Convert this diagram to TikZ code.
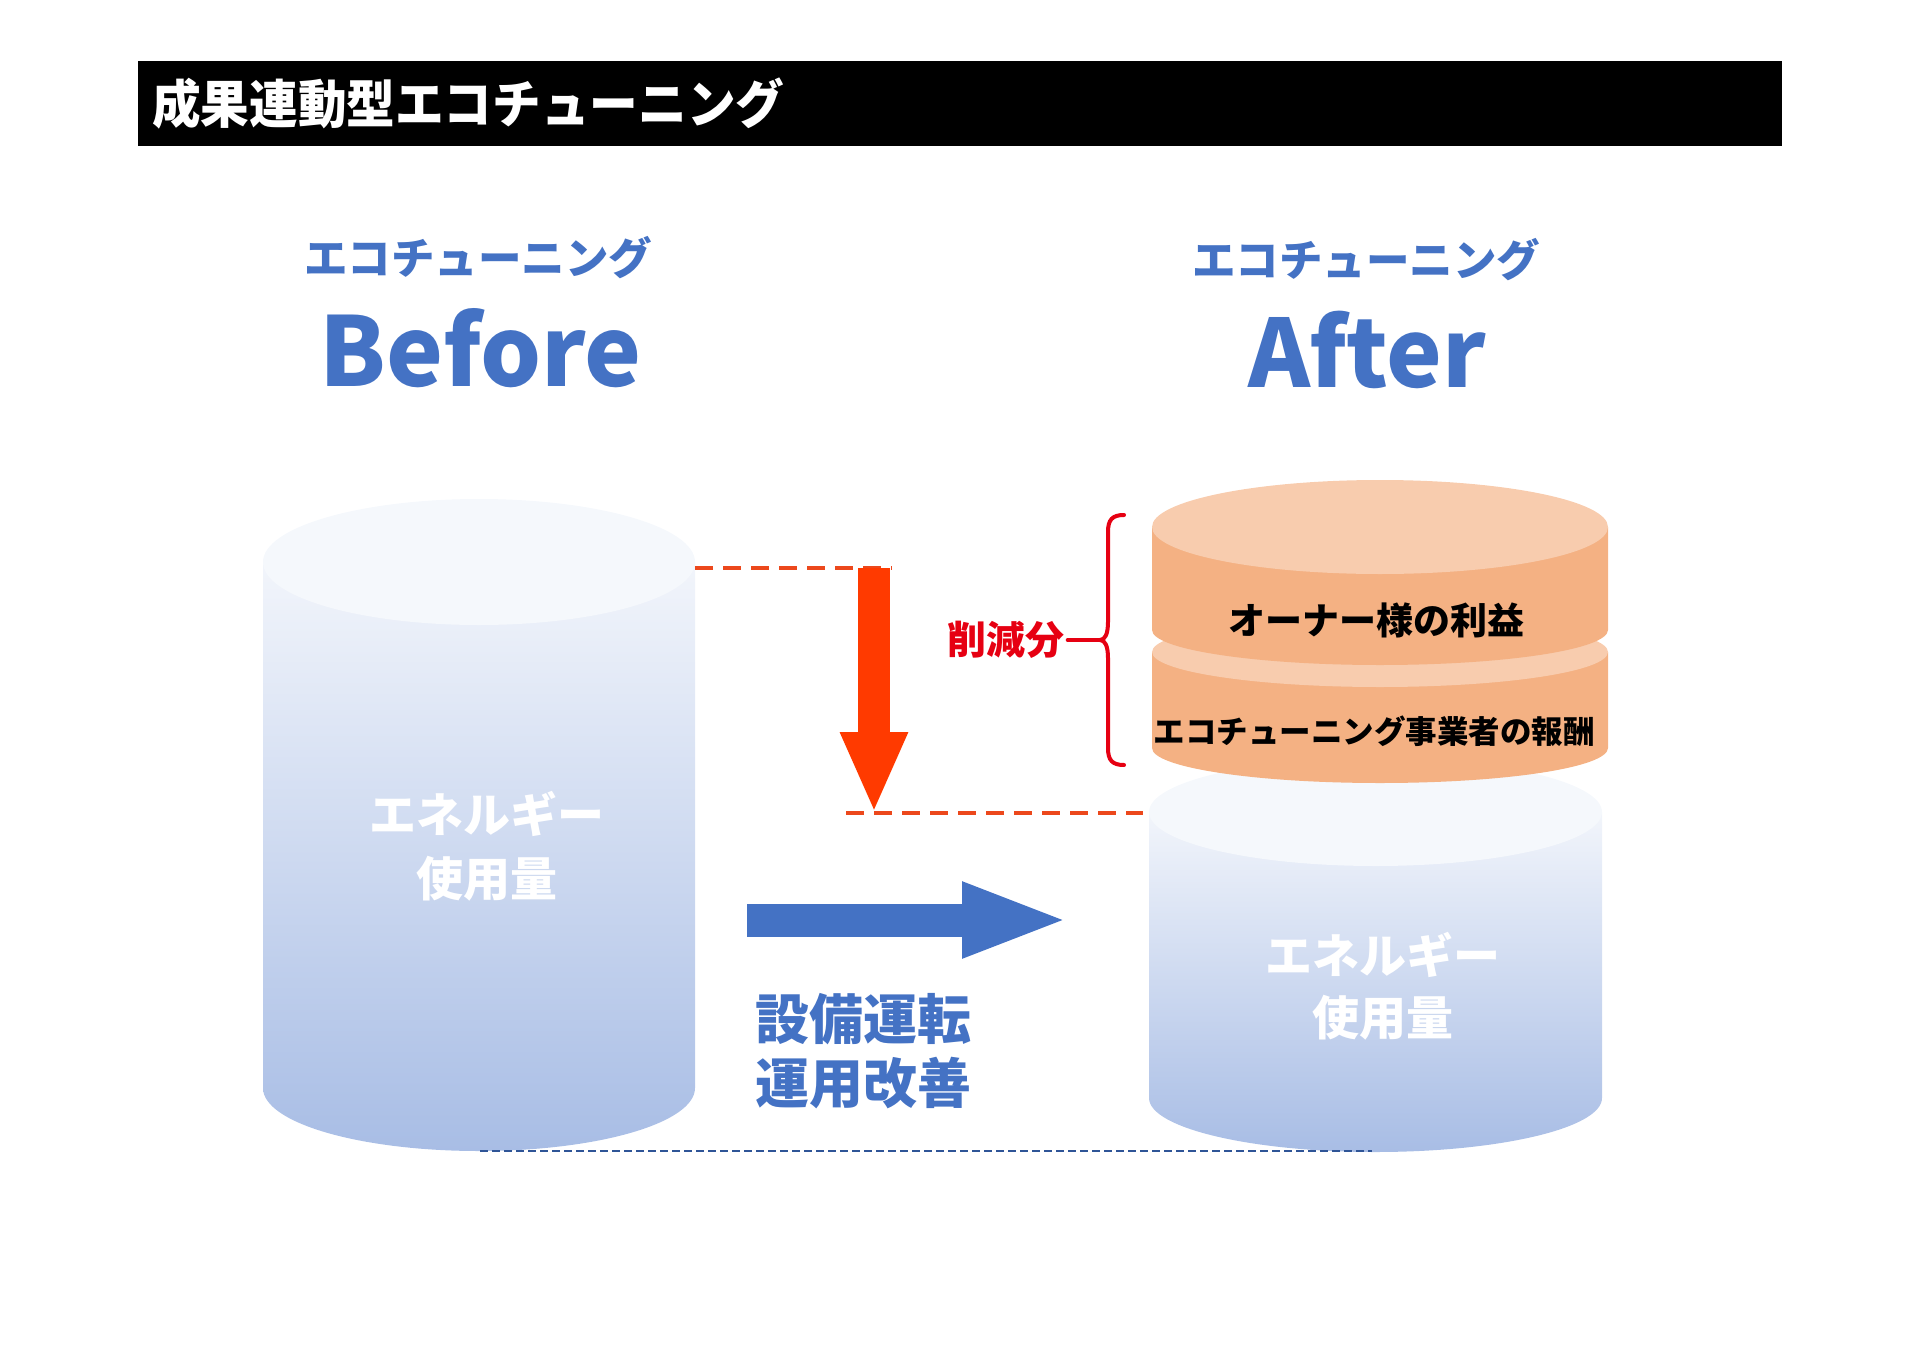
\documentclass[tikz,border=0pt]{standalone}
\usepackage{fontspec}
\usepackage{graphicx}
\setmainfont{Noto Sans CJK JP}
\definecolor{labelBlue}{RGB}{68, 114, 196}
\definecolor{faceBlue}{RGB}{245, 248, 252}
\definecolor{sideBlueTop}{RGB}{242, 245, 251}
\definecolor{sideBlueBot}{RGB}{168, 189, 229}
\definecolor{faceOrange}{RGB}{248, 204, 174}
\definecolor{sideOrange}{RGB}{244, 177, 131}
\definecolor{cutRed}{RGB}{255, 58, 0}
\definecolor{dashRed}{RGB}{236, 72, 28}
\definecolor{braceRed}{RGB}{230, 0, 18}
\definecolor{baseBlue}{RGB}{47, 85, 151}
\usepackage{tikz}
\usetikzlibrary{positioning, calc, arrows.meta}

\begin{document}
\begin{tikzpicture}[
    x=1pt, y=-1pt,
    titlebar/.style={fill=black, minimum width=1644pt, minimum height=85pt, inner sep=0pt},
    titletext/.style={text=white, font=\fontsize{52}{60}\selectfont\bfseries, inner sep=0pt},
    phasetext/.style={text=labelBlue, font=\fontsize{43.5}{50}\selectfont\bfseries, inner sep=0pt},
    phasebig/.style={text=labelBlue, font=\fontsize{96}{110}\selectfont\bfseries, inner sep=0pt, anchor=base},
    energytext/.style={text=white, font=\fontsize{47}{64}\selectfont\bfseries, align=center, inner sep=0pt},
    sharetext/.style={text=black, font=\bfseries, inner sep=0pt},
    cutline/.style={dashRed, line width=4pt, dash pattern=on 18pt off 10pt},
    cutarrow/.style={cutRed, line width=32pt, -{Triangle[length=81pt, width=62pt]}},
    improvearrow/.style={labelBlue, line width=33pt, -{Triangle[length=108pt, width=68pt]}},
    basedash/.style={baseBlue, line width=2.5pt, dash pattern=on 8pt off 4pt},
    bracestyle/.style={braceRed, line width=4pt, line cap=round, line join=round},
  ]
    \useasboundingbox (0,0) rectangle (1920,1357);

    % title
    \node[titlebar] (bar) at (960,103.5) {};
    \node[titletext, anchor=west] (title) at (152,104) {\scalebox{0.935}[1]{成果連動型エコチューニング}};

    % headings
    \node[phasetext] (beforeSub) at (478,258) {エコチューニング};
    \node[phasebig] (before) at (481,386) {Before};
    \node[phasetext] (afterSub) at (1366,260) {エコチューニング};
    \node[phasebig, font=\fontsize{94}{110}\selectfont\bfseries] (after) at (1367,387) {After};

    % before cylinder
    \shade[top color=sideBlueTop, bottom color=sideBlueBot]
      (263,562) -- (263,1088) arc[start angle=180, end angle=0, x radius=216, y radius=63]
      -- (695,562) -- cycle;
    \fill[faceBlue] (479,562) ellipse[x radius=216, y radius=63];
    \node[energytext] (useBefore) at (487,846) {エネルギー\\使用量};

    % after cylinder
    \shade[top color=sideBlueTop, bottom color=sideBlueBot]
      (1149,812) -- (1149,1098) arc[start angle=180, end angle=0, x radius=226.5, y radius=54]
      -- (1602,812) -- cycle;
    \fill[faceBlue] (1375.5,812) ellipse[x radius=226.5, y radius=54];
    \node[energytext, font=\fontsize{47}{62}\selectfont\bfseries] (useAfter) at (1383,986) {エネルギー\\使用量};

    % saved share discs
    \fill[sideOrange] (1152,652) -- (1152,748) arc[start angle=180, end angle=0, x radius=228, y radius=35]
      -- (1608,652) -- cycle;
    \fill[faceOrange] (1380,652) ellipse[x radius=228, y radius=35];
    \fill[sideOrange] (1152,527) -- (1152,630) arc[start angle=180, end angle=0, x radius=228, y radius=35]
      -- (1608,527) -- cycle;
    \fill[faceOrange] (1380,527) ellipse[x radius=228, y radius=47];
    \node[sharetext, font=\fontsize{37}{44}\selectfont\bfseries] (owner) at (1376,620) {オーナー様の利益};
    \node[sharetext, font=\fontsize{31.5}{38}\selectfont\bfseries] (fee) at (1374,731) {エコチューニング事業者の報酬};

    % reduction
    \coordinate (leftTopR) at (695,568);
    \coordinate (dashTopEnd) at (892,568);
    \coordinate (dashLowStart) at (846,813);
    \coordinate (rightTopL) at (1143,813);
    \coordinate (cutTop) at (874,568);
    \coordinate (cutTip) at (874,813);
    \draw[cutline] (leftTopR) -- (dashTopEnd);
    \draw[cutline] (dashLowStart) -- (rightTopL);
    \draw[cutarrow] (cutTop) -- (cutTip);

    \node[text=braceRed, font=\fontsize{39}{46}\selectfont\bfseries, inner sep=0pt] (cut) at (1006,640) {削減分};
    \coordinate (brTop) at (1124,515);
    \coordinate (brTip) at (1100,640);
    \coordinate (brBot) at (1124,765);
    \draw[bracestyle] (brTop) .. controls (1112,515) and (1108,520) .. (1108,532)
      -- (1108,622) .. controls (1108,634) and (1105,640) .. (brTip)
      .. controls (1105,640) and (1108,646) .. (1108,658)
      -- (1108,748) .. controls (1108,760) and (1112,765) .. (brBot);
    \draw[bracestyle] (cut.east) ++(3,0) -- (brTip);

    % improvement
    \coordinate (improveStart) at (747,920);
    \coordinate (improveTip) at (1070,920);
    \draw[improvearrow] (improveStart) -- (improveTip);
    \node[text=labelBlue, font=\fontsize{54}{64}\selectfont\bfseries, align=center, inner sep=0pt]
      (improve) at (863,1051) {設備運転\\運用改善};

    % base line
    \coordinate (leftBase) at (480,1151);
    \coordinate (rightBase) at (1372,1151);
    \draw[basedash] (leftBase) -- (rightBase);
  \end{tikzpicture}
\end{document}
